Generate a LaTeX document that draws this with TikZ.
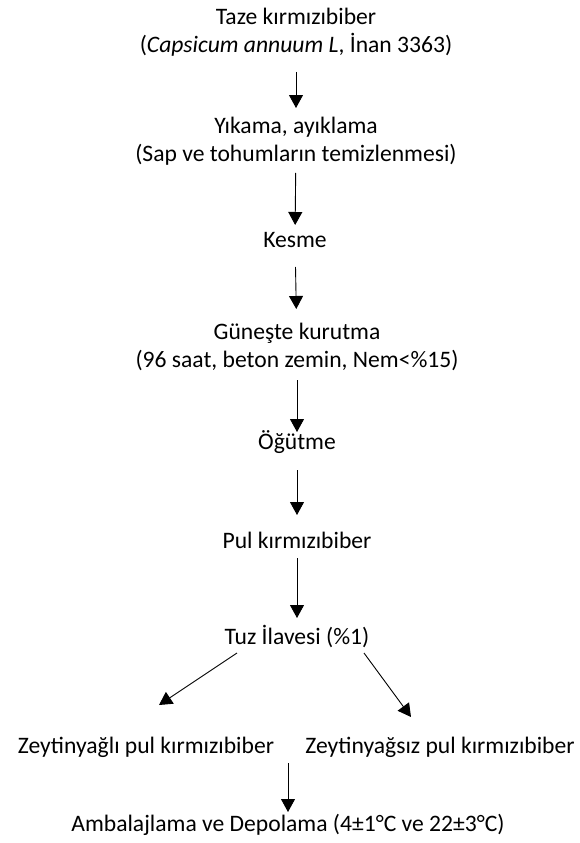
\documentclass[tikz,border=0pt]{standalone}
\usepackage{fontspec}
\setmainfont{Carlito}
\usepackage{tikz}
\usetikzlibrary{arrows.meta}

\begin{document}
\begin{tikzpicture}[x=1pt, y=-1pt,
        every node/.style={font=\fontsize{23.6}{28}\selectfont, inner sep=0pt, align=center},
        arr/.style={-{Triangle[width=14pt,length=13pt]}, line width=0.9pt}]
        \useasboundingbox (0, 0) rectangle (579, 843);
        \node (taze) at (296, 32) {Taze kırmızıbiber\\(\textit{Capsicum annuum L}, İnan 3363)};
        \node (yikama) at (296, 141) {Yıkama, ayıklama\\(Sap ve tohumların temizlenmesi)};
        \node (kesme) at (295, 240) {Kesme};
        \node (gunes) at (297, 347) {Güneşte kurutma\\(96 saat, beton zemin, Nem<\%15)};
        \node (ogutme) at (297, 442) {Öğütme};
        \node (pul) at (297, 540) {Pul kırmızıbiber};
        \node (tuz) at (297, 637) {Tuz İlavesi (\%1)};
        \node (yagli) at (146, 747) {Zeytinyağlı pul kırmızıbiber};
        \node (yagsiz) at (440, 747) {Zeytinyağsız pul kırmızıbiber};
        \node (ambalaj) at (288, 825) {Ambalajlama ve Depolama (4±1°C ve 22±3°C)};
        \coordinate (solbas) at (237, 653);
        \coordinate (solson) at (159, 705);
        \coordinate (sagbas) at (364, 653);
        \coordinate (sagson) at (411, 717);
        \coordinate (birles) at (288, 763);
        \draw[arr, shorten <=40pt, shorten >=33pt] (taze.center) -- (yikama.center);
        \draw[arr, shorten <=32pt, shorten >=15pt] (yikama.center) -- (kesme.center);
        \draw[arr, shorten <=27pt, shorten >=38pt] (kesme.center) -- (gunes.center);
        \draw[arr, shorten <=33pt, shorten >=10pt] (gunes.center) -- (ogutme.center);
        \draw[arr, shorten <=28pt, shorten >=25pt] (ogutme.center) -- (pul.center);
        \draw[arr, shorten <=18pt, shorten >=19pt] (pul.center) -- (tuz.center);
        \draw[arr] (solbas) -- (solson);
        \draw[arr] (sagbas) -- (sagson);
        \draw[arr, shorten >=13pt] (birles) -- (ambalaj.center);
    \end{tikzpicture}
\end{document}
